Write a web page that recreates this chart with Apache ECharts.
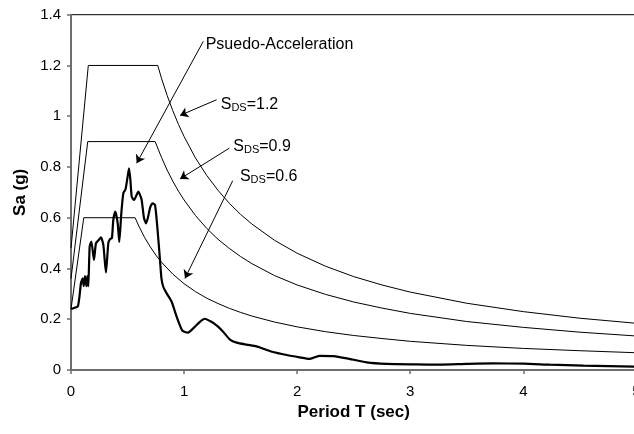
<!DOCTYPE html>
<html>
<head>
<meta charset="utf-8">
<script src="https://cdn.jsdelivr.net/npm/echarts@6/dist/echarts.min.js"></script>
<style>html,body{margin:0;padding:0;background:#fff;}#c{width:634px;height:434px;}</style>
</head>
<body>
<div id="c"></div>
<script>
// Measured pseudo-acceleration spectrum
const recT  = [0, 0.03, 0.06, 0.075, 0.088, 0.103, 0.112, 0.124, 0.136, 0.145, 0.153, 0.165, 0.18, 0.203, 0.221, 0.245, 0.265, 0.286, 0.309, 0.33, 0.345, 0.362, 0.374, 0.392, 0.413, 0.427, 0.445, 0.463, 0.482, 0.50, 0.513, 0.525, 0.537, 0.557, 0.58, 0.595, 0.61, 0.625, 0.645, 0.663, 0.68, 0.70, 0.722, 0.743, 0.763, 0.787, 0.80, 0.816, 0.846, 0.89, 0.934, 0.964, 0.985, 1.032, 1.081, 1.14, 1.185, 1.229, 1.264, 1.303, 1.347, 1.406, 1.465, 1.553, 1.64, 1.70, 1.77, 1.907, 2.02, 2.11, 2.15, 2.20, 2.32, 2.44, 2.614, 2.79, 3.056, 3.26, 3.5, 3.73, 4.0, 4.235, 4.53, 5.0];
const recSa = [0.24, 0.245, 0.25, 0.29, 0.342, 0.361, 0.331, 0.37, 0.33, 0.37, 0.33, 0.486, 0.506, 0.434, 0.50, 0.512, 0.523, 0.493, 0.384, 0.50, 0.516, 0.52, 0.591, 0.624, 0.578, 0.505, 0.618, 0.697, 0.712, 0.76, 0.795, 0.75, 0.683, 0.67, 0.69, 0.703, 0.69, 0.67, 0.60, 0.578, 0.60, 0.64, 0.657, 0.65, 0.565, 0.434, 0.36, 0.328, 0.302, 0.269, 0.21, 0.175, 0.155, 0.147, 0.164, 0.19, 0.202, 0.193, 0.184, 0.17, 0.15, 0.12, 0.108, 0.100, 0.093, 0.084, 0.073, 0.059, 0.05, 0.044, 0.049, 0.056, 0.055, 0.046, 0.030, 0.024, 0.022, 0.021, 0.024, 0.026, 0.025, 0.021, 0.017, 0.013];

// Design spectra
const ds12T  = [0, 0.153, 0.767, 0.8, 0.85, 0.9, 0.95, 1.0, 1.1, 1.2, 1.3, 1.4, 1.5, 1.6, 1.8, 2.0, 2.25, 2.5, 2.75, 3.0, 3.5, 4.0, 4.5, 5.0];
const ds12Sa = [0.48, 1.2, 1.2, 1.15, 1.082, 1.022, 0.968, 0.92, 0.836, 0.767, 0.708, 0.657, 0.613, 0.575, 0.511, 0.46, 0.409, 0.368, 0.335, 0.307, 0.263, 0.23, 0.204, 0.184];
const ds09T  = [0, 0.148, 0.744, 0.8, 0.85, 0.9, 0.95, 1.0, 1.1, 1.2, 1.3, 1.4, 1.5, 1.6, 1.8, 2.0, 2.25, 2.5, 2.75, 3.0, 3.5, 4.0, 4.5, 5.0];
const ds09Sa = [0.36, 0.9, 0.9, 0.838, 0.788, 0.744, 0.705, 0.67, 0.609, 0.558, 0.515, 0.479, 0.447, 0.419, 0.372, 0.335, 0.298, 0.268, 0.244, 0.223, 0.191, 0.168, 0.149, 0.134];
const ds06T  = [0, 0.113, 0.567, 0.6, 0.65, 0.7, 0.75, 0.8, 0.9, 1.0, 1.1, 1.2, 1.3, 1.4, 1.5, 1.6, 1.8, 2.0, 2.25, 2.5, 2.75, 3.0, 3.5, 4.0, 4.5, 5.0];
const ds06Sa = [0.24, 0.6, 0.6, 0.567, 0.523, 0.486, 0.453, 0.425, 0.378, 0.34, 0.309, 0.283, 0.262, 0.243, 0.227, 0.2125, 0.189, 0.17, 0.151, 0.136, 0.124, 0.113, 0.097, 0.085, 0.076, 0.068];

// Axis ticks
const xTicks = [0, 1, 2, 3, 4, 5];
const yTicks = [0, 0.2, 0.4, 0.6, 0.8, 1, 1.2, 1.4];

const zip = (a, b) => a.map((v, i) => [v, b[i]]);
const FONT = '"Liberation Sans", Arial, sans-serif';

const chart = echarts.init(document.getElementById('c'), null, {renderer: 'canvas'});
const thin = {color: '#000', width: 1};
const sdsRich = {
  s: {fontSize: 16, fontFamily: FONT, color: '#000', lineHeight: 18},
  sub: {fontSize: 11, fontFamily: FONT, color: '#000', lineHeight: 10, verticalAlign: 'bottom'}
};
function txt(coord, formatter) {
  return {coord: coord, symbol: 'circle', symbolSize: 0,
    label: {show: true, position: 'right', distance: 0, formatter: formatter,
      fontSize: 16, fontFamily: FONT, color: '#000', rich: sdsRich}};
}

chart.setOption({
  animation: false,
  backgroundColor: '#fff',
  grid: {left: 71, top: 14.7, right: -2.4, bottom: 64, containLabel: false, outerBoundsMode: 'none',
    show: true, borderColor: '#000', borderWidth: 1},
  xAxis: {
    type: 'value', min: xTicks[0], max: xTicks[xTicks.length - 1], interval: 1,
    name: 'Period T (sec)', nameLocation: 'middle', nameGap: 32,
    nameTextStyle: {fontSize: 17, fontWeight: 'bold', fontFamily: FONT, color: '#000'},
    axisLine: {lineStyle: {color: '#6e6e6e', width: 2}},
    axisTick: {show: true, inside: false, length: 4, lineStyle: {color: '#6e6e6e', width: 1.5}},
    axisLabel: {fontSize: 15, fontFamily: FONT, color: '#000', margin: 14, hideOverlap: false},
    splitLine: {show: false}
  },
  yAxis: {
    type: 'value', min: yTicks[0], max: yTicks[yTicks.length - 1], interval: 0.2,
    name: 'Sa (g)', nameLocation: 'middle', nameGap: 42,
    nameTextStyle: {fontSize: 17, fontWeight: 'bold', fontFamily: FONT, color: '#000'},
    axisLine: {lineStyle: {color: '#6e6e6e', width: 2}},
    axisTick: {show: true, inside: false, length: 4, lineStyle: {color: '#6e6e6e', width: 1.5}},
    axisLabel: {fontSize: 15, fontFamily: FONT, color: '#000', margin: 10},
    splitLine: {show: false}
  },
  series: [
    {type: 'line', data: zip(ds12T, ds12Sa), showSymbol: false, lineStyle: thin, z: 2, silent: true},
    {type: 'line', data: zip(ds09T, ds09Sa), showSymbol: false, lineStyle: thin, z: 2, silent: true},
    {type: 'line', data: zip(ds06T, ds06Sa), showSymbol: false, lineStyle: thin, z: 2, silent: true},
    {type: 'line', data: zip(recT, recSa), showSymbol: false, smooth: 0.2,
      lineStyle: {color: '#000', width: 2.2}, z: 3, silent: true,
      markLine: {
        silent: true, symbol: ['none', 'arrow'], symbolSize: 8,
        label: {show: false}, lineStyle: {color: '#000', width: 1, type: 'solid'},
        data: [
          [{coord: [1.17, 1.295]}, {coord: [0.581, 0.815]}],
          [{coord: [1.288, 1.065]}, {coord: [0.964, 1.003]}],
          [{coord: [1.40, 0.874]}, {coord: [0.964, 0.753]}],
          [{coord: [1.43, 0.746]}, {coord: [1.008, 0.361]}]
        ]
      },
      markPoint: {
        silent: true,
        data: [
          txt([1.191, 1.284], 'Psuedo-Acceleration'),
          txt([1.324, 1.045], '{s|S}{sub|DS}{s|=1.2}'),
          txt([1.435, 0.88], '{s|S}{sub|DS}{s|=0.9}'),
          txt([1.494, 0.762], '{s|S}{sub|DS}{s|=0.6}')
        ]
      }
    }
  ]
});
</script>
</body>
</html>
